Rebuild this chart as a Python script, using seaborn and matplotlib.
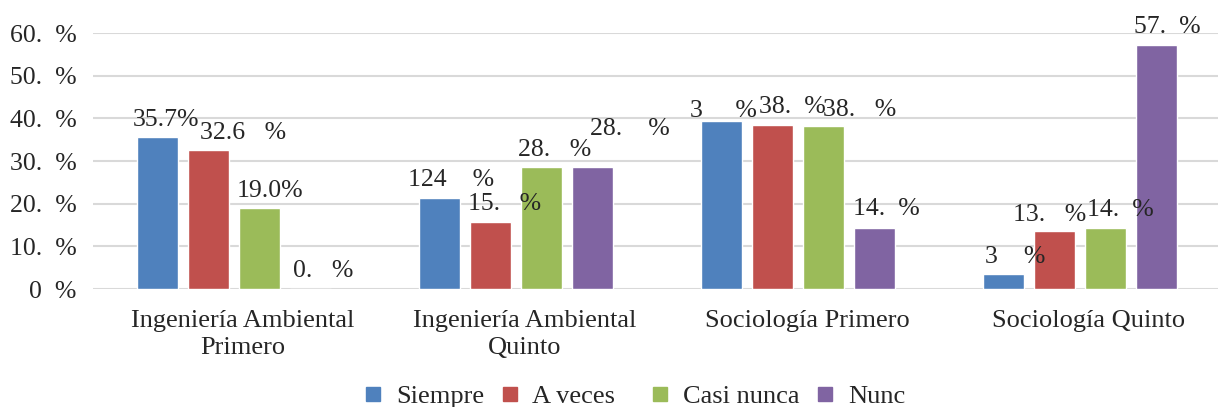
import pandas as pd
import seaborn as sns
import matplotlib.pyplot as plt
import matplotlib.transforms as mtransforms
from matplotlib.lines import Line2D

# data
grupos = ["Ingeniería Ambiental\nPrimero", "Ingeniería Ambiental\nQuinto",
          "Sociología Primero", "Sociología Quinto"]
respuestas = ["Siempre", "A veces", "Casi nunca", "Nunca"]
siempre = [35.7, 21.4, 39.3, 3.6]
a_veces = [32.6, 15.7, 38.5, 13.6]
casi_nunca = [19.0, 28.6, 38.1, 14.3]
nunca = [0.0, 28.6, 14.3, 57.1]

# labels as they appear in the picture (glyphs missing)
etiquetas = [
    ["35.7%", "124    %", "3     %", "3    %"],
    ["32.6   %", "15.   %", "38.  %", "13.   %"],
    ["19.0%", "28.   %", "38.   %", "14.  %"],
    ["0.   %", "28.    %", "14.  %", "57.  %"],
]
# label nudges in pixels (x from bar left edge, y = baseline above bar top)
nudge_x = [
    [-4, -11, -11, 2],
    [12, -2, 7, -21],
    [-2, -3, 20, 2],
    [3, 18, -1, -2],
]
nudge_y = [
    [11, 12, 4, 11],
    [11, 12, 12, 10],
    [11, 11, 10, 12],
    [12, 32, 13, 12],
]
leyenda = ["Siempre", "A veces   ", "Casi nunca", "Nunc"]
yticks = [0, 10, 20, 30, 40, 50, 60]
ytick_labels = ["0  %", "10.  %", "20.  %", "30.  %", "40.  %", "50.  %", "60.  %"]
colores = ["#4F81BD", "#C0504D", "#9BBB59", "#8064A2"]

rows = []
for resp, vals in zip(respuestas, [siempre, a_veces, casi_nunca, nunca]):
    for g, v in zip(grupos, vals):
        rows.append({"grupo": g, "respuesta": resp, "valor": v})
df = pd.DataFrame(rows)

sns.set_style("white")
plt.rcParams["font.family"] = ["Liberation Serif", "DejaVu Serif"]
plt.rcParams["font.size"] = 18.5

fig = plt.figure(figsize=(12.18, 4.07), dpi=100)
ax = fig.add_axes([93 / 1218, 1 - 289 / 407, 1 - 93 / 1218, (289 - 33) / 407])

sns.barplot(data=df, x="grupo", y="valor", hue="respuesta", hue_order=respuestas,
            palette=colores, width=0.723, gap=0.2, ax=ax, legend=False, errorbar=None,
            saturation=1)

px = 72 / 100
for cont, labs, nx, ny in zip(ax.containers, etiquetas, nudge_x, nudge_y):
    for bar, lab, dx, dy in zip(cont, labs, nx, ny):
        ax.annotate(lab, (bar.get_x(), bar.get_height()), xytext=(dx * px, dy * px),
                    textcoords="offset points", ha="left", va="baseline",
                    fontsize=18.5, annotation_clip=False)

ax.set_ylim(0, 60)
ax.set_xlim(-0.5, -0.5 + (1218 - 93) / 282)
ax.set_yticks(yticks)
ax.set_yticklabels(ytick_labels)
ax.yaxis.grid(True, color="#D9D9D9", linewidth=1.5)
ax.set_axisbelow(True)
ax.tick_params(axis="y", length=0, pad=12)
ax.tick_params(axis="x", length=0, pad=15, labelsize=19)
shift = mtransforms.ScaledTranslation(9 / 100, 0, fig.dpi_scale_trans)
for t in ax.get_xticklabels():
    t.set_linespacing(1.3)
    t.set_transform(t.get_transform() + shift)
ax.set_xlabel("")
ax.set_ylabel("")
for s in ax.spines.values():
    s.set_visible(False)

handles = [Line2D([], [], marker="s", linestyle="", markersize=9.4,
                  markerfacecolor=c, markeredgecolor=c) for c in colores]
fig.legend(handles, leyenda, loc="lower center", bbox_to_anchor=(0.5205, -0.062),
           ncol=4, frameon=False, fontsize=19, handlelength=0.8,
           handletextpad=0.47, columnspacing=0.55)

fig.savefig("out.png", dpi=100)
